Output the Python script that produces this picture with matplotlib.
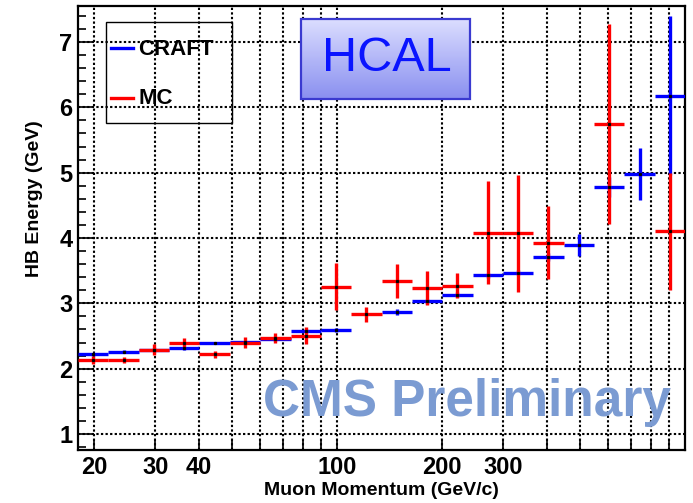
import numpy as np
import matplotlib.pyplot as plt
from matplotlib.lines import Line2D
from matplotlib.patches import Rectangle
from matplotlib.colors import LinearSegmentedColormap
from matplotlib.ticker import FixedLocator, MultipleLocator, NullFormatter

plt.rcParams['font.family'] = ['Liberation Sans', 'DejaVu Sans']

# log-spaced momentum bins (GeV/c)
bin_edges = [18, 22.0, 26.9, 32.9, 40.2, 49.2, 60.1, 73.5, 89.8, 109.8, 134.2,
             164.0, 200.5, 245.1, 299.7, 366.3, 447.8, 547.5, 669.3, 818.2, 1000]

craft = [2.22, 2.26, 2.29, 2.31, 2.39, 2.41, 2.45, 2.58, 2.59, np.nan,
         2.87, 3.03, 3.13, 3.43, 3.47, 3.71, 3.89, 4.78, 4.98, 6.18]
craft_err = [0.02, 0.02, 0.02, 0.02, 0.02, 0.02, 0.02, 0.03, 0.03, np.nan,
             0.05, 0.04, 0.04, 0.04, 0.04, 0.06, 0.17, 0.15, 0.40, 1.22]

mc = [2.13, 2.13, 2.29, 2.39, 2.22, 2.40, 2.47, 2.50, 3.25, 2.83,
      3.34, 3.23, 3.27, 4.08, 4.07, 3.93, np.nan, 5.74, np.nan, 4.10]
mc_err = [0.06, 0.045, 0.08, 0.08, 0.055, 0.09, 0.08, 0.13, 0.36, 0.11,
          0.26, 0.26, 0.19, 0.79, 0.90, 0.56, np.nan, 1.53, np.nan, 0.90]

xtick_labeled = [20, 30, 40, 100, 200, 300]
xtick_minor = [50, 60, 70, 80, 90, 400, 500, 600, 700, 800, 900]

edges = np.array(bin_edges)
centers = np.sqrt(edges[:-1] * edges[1:])
xerr = [centers - edges[:-1], edges[1:] - centers]

fig = plt.figure(figsize=(6.93, 5.03), dpi=100)
ax = fig.add_axes([0.1126, 0.1054, 0.8759, 0.8826])
ax.set_xscale('log')

# grid first, so data sits on top
grid_kw = dict(color='black', linestyle=(0, (1.1, 1.1)), linewidth=1.5, zorder=0)
for v in xtick_labeled + xtick_minor:
    ax.axvline(v, **grid_kw)
for v in range(1, 8):
    ax.axhline(v, **grid_kw)

eb_kw = dict(fmt='none', elinewidth=2.4, capsize=0)
ax.errorbar(centers, craft, xerr=xerr, yerr=craft_err, ecolor='#0000ff', zorder=3, **eb_kw)
ax.errorbar(centers, mc, xerr=xerr, yerr=mc_err, ecolor='#ff0000', zorder=4, **eb_kw)
ax.plot(centers, craft, ls='none', marker='s', ms=1.3, color='k', zorder=5)
ax.plot(centers, mc, ls='none', marker='s', ms=1.3, color='k', zorder=5)

# axes ticks
ax.xaxis.set_major_locator(FixedLocator(xtick_labeled))
ax.xaxis.set_minor_locator(FixedLocator(xtick_minor))
ax.xaxis.set_minor_formatter(NullFormatter())
ax.set_xticklabels([str(v) for v in xtick_labeled])
ax.yaxis.set_major_locator(MultipleLocator(1))
ax.yaxis.set_minor_locator(MultipleLocator(0.2))
ax.tick_params(axis='both', which='both', direction='in', top=False, right=False,
               labelsize=17, width=1.2)
ax.tick_params(axis='x', which='both', length=7, pad=4)
ax.tick_params(axis='y', which='major', length=10, pad=4)
ax.tick_params(axis='y', which='minor', length=6)
for lab in ax.get_xticklabels() + ax.get_yticklabels():
    lab.set_fontweight('bold')
for s in ax.spines.values():
    s.set_linewidth(1.6)

ax.set_xlabel('Muon Momentum (GeV/c)', fontsize=14, fontweight='bold')
ax.set_ylabel('HB Energy (GeV)', fontsize=14, fontweight='bold')
ax.xaxis.set_label_coords(0.5, -0.072)
ax.yaxis.set_label_coords(-0.057, 0.567)

# legend box
ax.add_patch(Rectangle((0.0456, 0.736), 0.2084, 0.227, transform=ax.transAxes,
                       fill=False, edgecolor='black', linewidth=1.0, zorder=6))
ax.add_line(Line2D([0.0537, 0.090], [0.906, 0.906], transform=ax.transAxes,
                   color='#0000ff', lw=2.4, zorder=6))
ax.add_line(Line2D([0.0537, 0.090], [0.7935, 0.7935], transform=ax.transAxes,
                   color='#ff0000', lw=2.4, zorder=6))
ax.text(0.0993, 0.901, 'CRAFT', transform=ax.transAxes, fontsize=16,
        fontweight='bold', va='center', ha='left', zorder=6)
ax.text(0.0993, 0.792, 'MC', transform=ax.transAxes, fontsize=16,
        fontweight='bold', va='center', ha='left', zorder=6)

# HCAL label box with vertical gradient
grad = np.linspace(0, 1, 64).reshape(-1, 1)
hcal_cmap = LinearSegmentedColormap.from_list('hcal', ['#dcdeff', '#8a90f0'])
ax.imshow(grad, extent=(0.367, 0.646, 0.7905, 0.971), transform=ax.transAxes,
          cmap=hcal_cmap, aspect='auto', zorder=6)
ax.add_patch(Rectangle((0.367, 0.7905), 0.279, 0.1805, transform=ax.transAxes,
                       fill=False, edgecolor='#3a3ad0', linewidth=1.6, zorder=7))
ax.text(0.509, 0.882, 'HCAL', transform=ax.transAxes, fontsize=35,
        color='#0a14ff', ha='center', va='center', zorder=8)

ax.text(0.640, 0.108, 'CMS Preliminary', transform=ax.transAxes, fontsize=37,
        fontweight='bold', color='#7b9bd2', ha='center', va='center', zorder=2)

# imshow resets limits, so set them last
ax.set_xlim(18, 1000)
ax.set_ylim(0.755, 7.55)

fig.savefig('out.png', dpi=100)
